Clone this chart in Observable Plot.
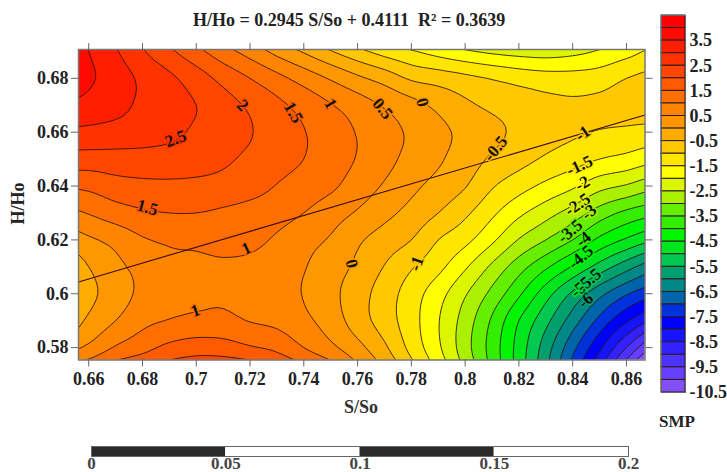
<!DOCTYPE html>
<html><head><meta charset="utf-8">
<script src="https://cdn.jsdelivr.net/npm/d3@7"></script>
<script src="https://cdn.jsdelivr.net/npm/@observablehq/plot@0.6"></script>
<style>
html,body{margin:0;padding:0;background:#fff;width:727px;height:472px;overflow:hidden}
#wrap{position:relative;width:727px;height:472px}
#wrap>svg,#wrap>div{position:absolute}
.t{font:bold 18px "Liberation Serif","Times New Roman",serif;color:#222;white-space:pre}
</style></head><body><div id="wrap"></div>
<script>
// SMP: rows of H/Ho 0.70 … 0.57, columns of S/So 0.65 … 0.87
const r70=[3.9,3.35,2.8,2.2,1.6,1.05,.55,.1,-.45,-.9,-1.35,-1.8,-2.2,-2.35,-2.65,-3,-3.2,-3.25,-3.3,-3.1,-2.65,-2.4,-1.95];
const r69=[4.0,3.5,3.05,2.55,2.1,1.65,1.2,.8,.35,-.05,-.47,-.85,-1.2,-1.45,-1.7,-1.93,-2.1,-2.2,-2.25,-2.15,-1.95,-1.7,-1.4];
const r68=[4.1,3.6,3.25,2.9,2.6,2.25,1.85,1.5,1.15,.8,.45,.1,-.2,-.57,-.71,-.87,-1.03,-1.18,-1.28,-1.3,-1.24,-1.0,-.85];
const r67=[3.45,3.3,3.15,2.9,2.68,2.5,2.2,1.92,1.62,1.33,1.03,.75,.45,.18,-.12,-.4,-.6,-.72,-.85,-.92,-.88,-.78,-.68];
const r66=[2.9,2.88,2.82,2.75,2.62,2.42,2.22,2.03,1.75,1.52,1.25,.97,.68,.42,.13,-.13,-.38,-.6,-.8,-.93,-1.03,-1.1,-1.2];
const r65=[2.3,2.28,2.3,2.3,2.28,2.22,2.08,1.9,1.68,1.5,1.23,.97,.65,.35,.07,-.25,-.57,-.82,-1.07,-1.28,-1.5,-1.65,-1.85];
const r64=[1.55,1.62,1.8,1.88,1.9,1.88,1.83,1.7,1.48,1.29,1.09,.77,.45,.12,-.17,-.47,-.95,-1.3,-1.62,-1.92,-2.33,-2.55,-2.85];
const r63=[.83,1.03,1.27,1.43,1.5,1.5,1.42,1.32,1.2,1.0,.72,.45,.14,-.16,-.5,-.9,-1.4,-1.89,-2.3,-2.72,-3.23,-3.62,-3.85];
const r62=[.15,.42,.65,.95,1.07,1.1,1.14,1.13,.93,.67,.45,.08,-.22,-.5,-1,-1.36,-1.9,-2.53,-3,-3.5,-4.12,-4.57,-4.95];
const r61=[-.5,0,.38,.65,.88,.92,.95,.89,.73,.53,.23,-.1,-.52,-.95,-1.36,-1.93,-2.6,-3.28,-3.91,-4.55,-5.2,-5.8,-6.3];
const r60=[-.75,-.15,.25,.62,.87,.92,.94,.85,.72,.475,.14,-.28,-.74,-1.25,-1.8,-2.45,-3.14,-3.91,-4.78,-5.6,-6.35,-6.95,-7.35];
const r59=[-.45,.1,.5,.87,1.02,1.1,1.12,.98,.88,.62,.27,-.25,-.74,-1.3,-1.97,-2.72,-3.57,-4.5,-5.35,-6.25,-7.15,-7.93,-8.53];
const r58=[.3,.6,1.05,1.33,1.63,1.77,1.73,1.55,1.38,1,.62,.16,-.41,-1.16,-1.91,-2.79,-3.71,-4.7,-5.75,-6.85,-7.9,-9,-10];
const r57=[1.15,1.5,1.9,2.1,2.35,2.45,2.5,2.45,2.1,1.75,1.37,.68,.02,-.73,-1.6,-2.55,-3.6,-4.72,-5.91,-7.25,-8.5,-10,-11.2];
const grid=[r70,r69,r68,r67,r66,r65,r64,r63,r62,r61,r60,r59,r58,r57];

const bandLow=[4,3.5,3,2.5,2,1.5,1,.5,0,-.5,-1,-1.5,-2,-2.5,-3,-3.5,-4,-4.5,-5,-5.5,-6,-6.5,-7,-7.5,-8,-8.5,-9,-9.5,-10,-10.5];
const bandColor=["#ff0000","#ff0a00","#ff1e00","#ff3200","#ff4600","#ff5a00","#ff6e00","#ff8400","#ff9800","#ffac00","#ffc800","#ffe600","#ffff00","#dcf500","#aaf000","#66ee00","#33ee00","#00f500","#00e61e","#00c850","#00a06e","#008888","#0064aa","#0032dc","#0000ff","#1414ff","#3322ff","#4c33ff","#663fff","#8450f5"];
const lineLevels=bandLow.filter(v=>v<4&&v>-10.5);

const xTicks=[.66,.68,.7,.72,.74,.76,.78,.8,.82,.84,.86];
const yTicks=[.58,.6,.62,.64,.66,.68];
const fitX=[.6562,.8669], fitY=[.6044,.6664];

const labelText=["2.5","2","1.5","1","0.5","0","-0.5","-1","-1.5","-2","-2.5","-3","-3.5","-4","-4.5","-5","-5.5","-6","1.5","1","1","0","-1"];
const labelLevel=[2.5,2,1.5,1,.5,0,-.5,-1,-1.5,-2,-2.5,-3,-3.5,-4,-4.5,-5,-5.5,-6,1.5,1,1,0,-1];
const labelX=[.6923,.7172,.7361,.7499,.7693,.7841,.8113,.8437,.8425,.8436,.8418,.8460,.8390,.8440,.8430,.8420,.8460,.8448,.6818,.7186,.6997,.7578,.7819];
const labelY=[.6576,.6699,.6673,.6706,.6687,.6710,.6539,.6595,.6476,.6409,.6331,.6303,.6232,.6202,.6136,.6015,.6050,.5975,.6320,.6168,.5937,.6112,.6112];
const labelAngle=[-20,45,60,60,50,75,-50,-35,-25,-30,-35,-40,-40,-40,-40,-40,-40,-40,15,-25,-20,75,-70];

const legendTicks=[3.5,2.5,1.5,.5,-.5,-1.5,-2.5,-3.5,-4.5,-5.5,-6.5,-7.5,-8.5,-9.5,-10.5];
const scaleLow=[0,.05,.1,.15], scaleHigh=[.05,.1,.15,.2], scaleFill=["#2a2a2a","#ffffff","#2a2a2a","#ffffff"];
const scaleTicks=[0,.05,.1,.15,.2];

const FONT='"Liberation Serif","Times New Roman",serif';
const baseStyle={fontFamily:FONT,fontWeight:"bold",fontSize:"18px",color:"#222",background:"none",overflow:"visible"};
const wrap=document.getElementById("wrap");

// Draw the read grid as a smooth surface: a cubic (Catmull-Rom) raster through the read values, so curves are not polygons.
const K=5, H0=grid.length, W0=grid[0].length, W=(W0-1)*K+1, H=(H0-1)*K+1;
const cr=(a,b,c,d,t)=>b+.5*t*(c-a+t*(2*a-5*b+4*c-d+t*(3*(b-c)+d-a)));
const at=(j,i)=>grid[Math.max(0,Math.min(H0-1,j))][Math.max(0,Math.min(W0-1,i))];
const raster=new Float64Array(W*H);
for(let y=0;y<H;y++){const j=Math.floor(y/K),u=y/K-j;
  for(let x=0;x<W;x++){const i=Math.floor(x/K),t=x/K-i;
    const col=[-1,0,1,2].map(m=>cr(at(j+m,i-1),at(j+m,i),at(j+m,i+1),at(j+m,i+2),t));
    raster[y*W+x]=cr(col[0],col[1],col[2],col[3],u);}}
const hx=.01/(2*K),hy=.01/(2*K);
const contourBox={width:W,height:H,x1:.65-hx,x2:.87+hx,y1:.70+hy,y2:.57-hy};
const idx=labelText.map((_,i)=>i);

const main=Plot.plot({
  width:727,height:472,marginLeft:78,marginRight:82.5,marginTop:49,marginBottom:112.5,
  style:baseStyle,
  x:{domain:[.6562,.8669]},
  y:{domain:[.5754,.6907]},
  color:{type:"ordinal",domain:bandLow,range:bandColor},
  marks:[
    Plot.contour(raster,{...contourBox,value:d=>d,thresholds:bandLow.slice().reverse(),fill:"value",stroke:"none",clip:true}),
    Plot.contour(raster,{...contourBox,thresholds:lineLevels.slice().reverse(),fill:"none",stroke:"#2a1208",strokeWidth:1,strokeOpacity:.85,clip:true}),
    Plot.line(fitX.map((x,i)=>({x,y:fitY[i]})),{x:"x",y:"y",stroke:"#3a0c0c",strokeWidth:1.1}),
    Plot.text(idx,{x:i=>labelX[i],y:i=>labelY[i],text:i=>labelText[i],rotate:i=>labelAngle[i],stroke:i=>labelLevel[i],strokeWidth:3,fill:"#111",fontSize:17,fontWeight:"bold",fontFamily:FONT}),
    Plot.frame({stroke:"#777",strokeWidth:1.5}),
    Plot.axisX({anchor:"bottom",ticks:xTicks,tickSize:7,tickPadding:5,stroke:"#666",tickFormat:String,label:null,fill:"#222"}),
    Plot.axisX({anchor:"top",ticks:xTicks,tickSize:7,stroke:"#666",tickFormat:()=>"",label:null}),
    Plot.axisY({anchor:"left",ticks:yTicks,tickSize:7,tickPadding:3,stroke:"#666",tickFormat:String,label:null,fill:"#222"}),
    Plot.axisY({anchor:"right",ticks:yTicks,tickSize:7,stroke:"#666",tickFormat:()=>"",label:null})
  ]
});
main.style.left="0";main.style.top="0";wrap.appendChild(main);

const legend=Plot.plot({
  width:72,height:410,marginLeft:6,marginRight:42,marginTop:15,marginBottom:18,
  style:baseStyle,
  x:{domain:[0,1],axis:null},
  y:{domain:[-10.5,4.5]},
  color:{type:"ordinal",domain:bandLow,range:bandColor},
  marks:[
    Plot.rect(bandLow,{x1:0,x2:1,y1:d=>d,y2:d=>d+.5,fill:d=>d,stroke:"#2a1a1a",strokeWidth:1}),
    Plot.frame({stroke:"#666",strokeWidth:1}),
    Plot.axisY({anchor:"right",ticks:legendTicks,tickSize:0,tickPadding:4,tickFormat:String,label:null,textAnchor:"start",fill:"#222"})
  ]
});
legend.style.left="655px";legend.style.top="0";wrap.appendChild(legend);

const bar=Plot.plot({
  width:727,height:32,marginLeft:91,marginRight:99,marginTop:6,marginBottom:16,
  style:baseStyle,
  x:{domain:[0,.2]},
  y:{axis:null,domain:[0,1]},
  marks:[
    Plot.rect(scaleLow,{x1:d=>d,x2:(d,i)=>scaleHigh[i],y1:0,y2:1,fill:(d,i)=>scaleFill[i]}),
    Plot.frame({stroke:"#666",strokeWidth:1}),
    Plot.axisX({anchor:"bottom",ticks:scaleTicks,tickSize:0,tickPadding:0,tickFormat:String,label:null,fill:"#444",fontSize:17})
  ]
});
bar.style.left="0";bar.style.top="440px";wrap.appendChild(bar);

function addText(s,l,t,extra){const d=document.createElement("div");d.className="t";d.textContent=s;d.style.left=l+"px";d.style.top=t+"px";if(extra)Object.assign(d.style,extra);wrap.appendChild(d);}
addText("H/Ho = 0.2945 S/So + 0.4111  R² = 0.3639",193,10,{fontSize:"18px"});
addText("S/So",344,397,{fontSize:"18px",color:"#333"});
addText("H/Ho",-3,193,{fontSize:"18px",transform:"rotate(-90deg)"});
addText("SMP",659,412,{fontSize:"17px"});
</script></body></html>
